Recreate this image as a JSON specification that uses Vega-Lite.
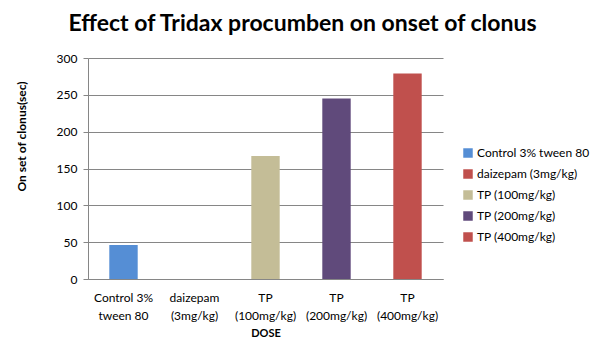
{
  "$schema": "https://vega.github.io/schema/vega-lite/v6.json",
  "width": 355,
  "height": 221,
  "autosize": {"type": "none"},
  "padding": {"left": 88, "top": 58, "right": 165, "bottom": 79},
  "background": "white",
  "title": {
    "text": "Effect of Tridax procumben  on onset of clonus",
    "font": "Lato",
    "fontSize": 23,
    "fontWeight": "bold",
    "color": "#000000",
    "anchor": "middle",
    "frame": "bounds",
    "offset": 16
  },
  "data": {
    "values": [
      {"dose": "Control 3% tween 80", "onset": 46},
      {"dose": "daizepam (3mg/kg)", "onset": 0},
      {"dose": "TP (100mg/kg)", "onset": 167},
      {"dose": "TP (200mg/kg)", "onset": 245},
      {"dose": "TP (400mg/kg)", "onset": 279}
    ]
  },
  "mark": {"type": "bar"},
  "encoding": {
    "x": {
      "field": "dose",
      "type": "nominal",
      "sort": null,
      "scale": {"paddingInner": 0.6, "paddingOuter": 0.3},
      "axis": {
        "title": "DOSE",
        "titleFont": "Lato",
        "titleFontSize": 11,
        "titleFontWeight": "bold",
        "titleColor": "#000000",
        "titlePadding": 6,
        "labelAngle": 0,
        "labelFont": "Lato",
        "labelFontSize": 12,
        "labelColor": "#000000",
        "labelLineHeight": 18,
        "labelPadding": 13,
        "labelExpr": "datum.value == 'Control 3% tween 80' ? ['Control 3%', 'tween 80'] : split(datum.value, ' ')",
        "domainColor": "#868686",
        "ticks": false,
        "grid": false
      }
    },
    "y": {
      "field": "onset",
      "type": "quantitative",
      "scale": {"domain": [0, 300]},
      "axis": {
        "title": "On set of clonus(sec)",
        "titleFont": "Lato",
        "titleFontSize": 12,
        "titleFontWeight": "bold",
        "titleColor": "#000000",
        "titlePadding": 28,
        "titleY": 78,
        "values": [0, 50, 100, 150, 200, 250, 300],
        "labelFont": "Lato",
        "labelFontSize": 12,
        "labelColor": "#000000",
        "labelPadding": 6,
        "domainColor": "#868686",
        "tickColor": "#868686",
        "tickSize": 5,
        "grid": true,
        "gridColor": "#868686",
        "gridWidth": 1
      }
    },
    "color": {
      "field": "dose",
      "type": "nominal",
      "sort": null,
      "scale": {
        "domain": ["Control 3% tween 80", "daizepam (3mg/kg)", "TP (100mg/kg)", "TP (200mg/kg)", "TP (400mg/kg)"],
        "range": ["#558ED5", "#C0504D", "#C4BD97", "#604A7B", "#C0504D"]
      },
      "legend": {
        "title": null,
        "orient": "none",
        "legendX": 374,
        "legendY": 89,
        "symbolType": "square",
        "symbolSize": 90,
        "symbolStrokeWidth": 0,
        "labelFont": "Lato",
        "labelFontSize": 12,
        "labelColor": "#000000",
        "rowPadding": 9,
        "labelOffset": 3
      }
    }
  },
  "config": {
    "view": {"stroke": null}
  }
}
